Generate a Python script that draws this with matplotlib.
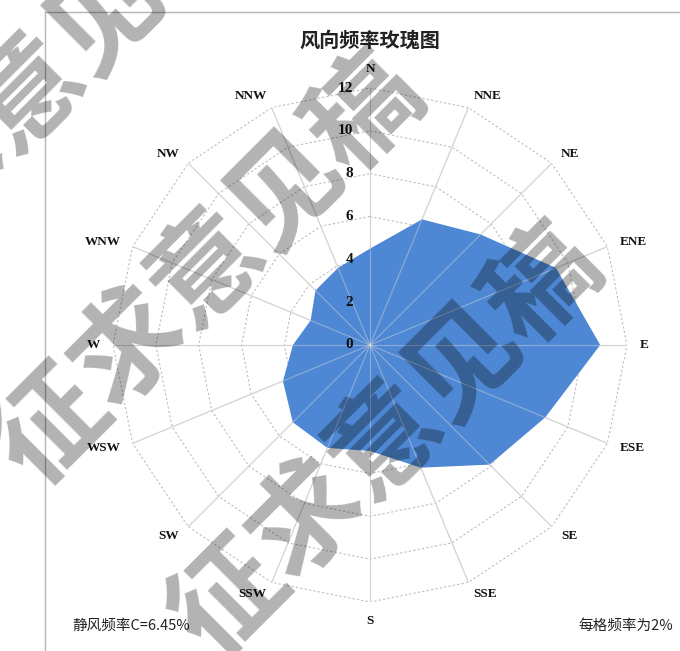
import numpy as np
import matplotlib.pyplot as plt
from matplotlib.lines import Line2D

# 16 compass sectors, clockwise from north
directions = ['N', 'NNE', 'NE', 'ENE', 'E', 'ESE', 'SE', 'SSE',
              'S', 'SSW', 'SW', 'WSW', 'W', 'WNW', 'NW', 'NNW']
freq = [4.5, 6.35, 7.3, 9.4, 10.75, 8.85, 7.9, 6.2,
        4.95, 5.2, 5.1, 4.4, 3.6, 3.0, 3.6, 3.9]
ring_values = [0, 2, 4, 6, 8, 10, 12]
calm = 6.45
title = '风向频率玫瑰图'
calm_text = '静风频率C=6.45%'
step_text = '每格频率为2%'
watermark = '征求意见稿'

cjk = ['Noto Sans CJK SC', 'DejaVu Sans']
serif = 'Liberation Serif'

W, H = 680, 651
fig = plt.figure(figsize=(W / 100, H / 100), dpi=100)
fig.patch.set_facecolor('white')

# polar axes centred at (370, 345) px, outer ring radius 257 px
ax = fig.add_axes([113 / W, 49 / H, 514 / W, 514 / H], projection='polar')
ax.set_theta_zero_location('N')
ax.set_theta_direction(-1)
ax.set_ylim(0, 12)
ax.grid(False)
ax.set_xticks([])
ax.set_yticks([])
ax.spines['polar'].set_visible(False)
ax.patch.set_visible(False)

theta = np.deg2rad(np.arange(len(directions)) * 22.5)
closed = np.append(theta, theta[0])

# polygon rings (dotted) and spokes
for r in ring_values[1:]:
    ax.plot(closed, [r] * len(closed), ls=(0, (2, 2)), color='#bdbdbd', lw=0.8, zorder=1)
for t in theta:
    ax.plot([t, t], [0, 12], color='#cccccc', lw=0.8, zorder=1)

ax.fill(closed, freq + [freq[0]], color='#4e88d4', lw=0, zorder=2)

# spokes stay faintly visible on top of the filled area
for t in theta:
    ax.plot([t, t], [0, 12], color='#dcdcdc', lw=0.8, alpha=0.45, zorder=3)

for v in ring_values:
    ax.annotate(str(v), xy=(0, v), xytext=(-17, 0), textcoords='offset pixels',
                ha='right', va='center', fontsize=11, fontweight='bold',
                family=serif, color='#111111', zorder=5)

for t, name in zip(theta, directions):
    s, c = np.sin(t), np.cos(t)
    if abs(s) < 0.01:
        ha, va = 'center', ('bottom' if c > 0 else 'top')
    else:
        ha, va = ('left' if s > 0 else 'right'), 'center'
    ax.text(t, 12.6, name, ha=ha, va=va, fontsize=9.5, fontweight='bold',
            family=serif, color='#111111')

fig.text(370 / W, 1 - 40 / H, title, ha='center', va='center',
         fontsize=14.5, fontweight='bold', family=cjk, color='#222222')
fig.text(72 / W, 1 - 626 / H, calm_text, ha='left', va='center',
         fontsize=10.5, family=cjk, color='#222222')
fig.text(673 / W, 1 - 626 / H, step_text, ha='right', va='center',
         fontsize=10.5, family=cjk, color='#222222')

# chart area border (top and left edges)
fig.add_artist(Line2D([45 / W, 1], [1 - 12 / H] * 2, transform=fig.transFigure,
                      color='#b4b4b4', lw=1))
fig.add_artist(Line2D([45 / W] * 2, [1 - 12 / H, 0], transform=fig.transFigure,
                      color='#b4b4b4', lw=1))

# diagonal draft watermark
for cx, cy in [(30, 95), (210, 270), (388, 442)]:
    fig.text(cx / W, 1 - cy / H, watermark, rotation=45, rotation_mode='anchor',
             ha='center', va='center', fontsize=80, fontweight='bold', family=cjk,
             color='black', alpha=0.3, zorder=10)

fig.savefig('out.png', dpi=100)
